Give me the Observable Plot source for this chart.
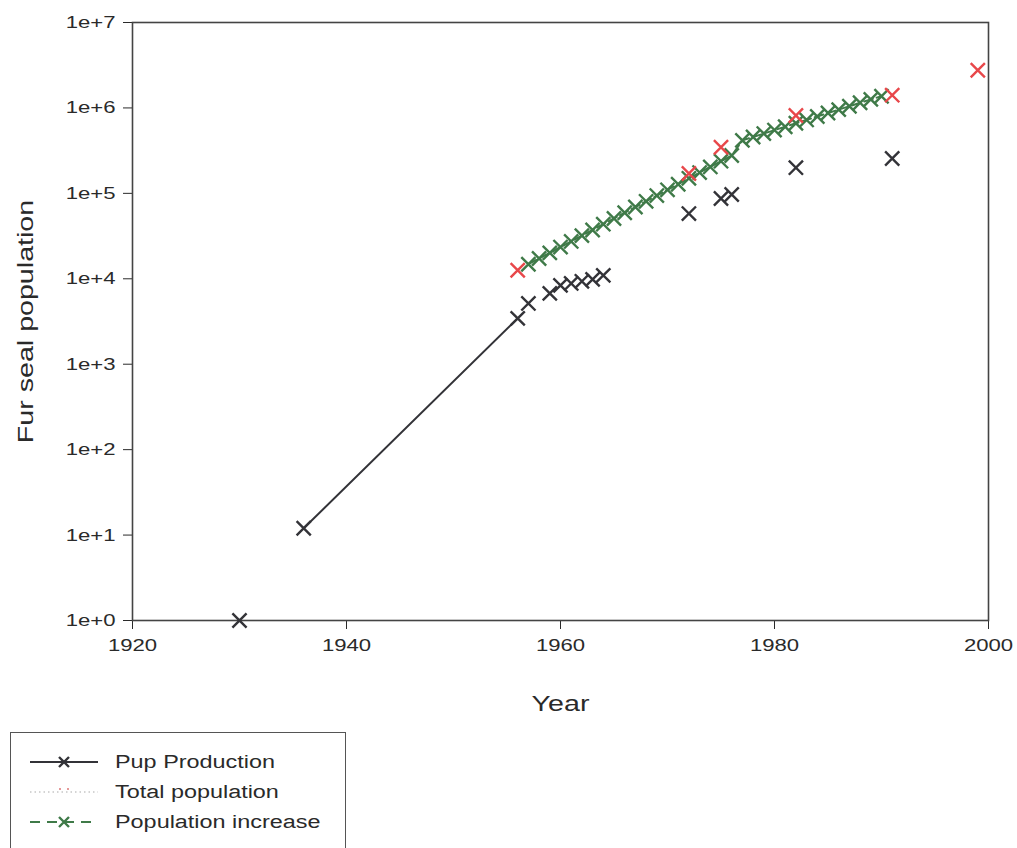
<!DOCTYPE html>
<html>
<head>
<meta charset="utf-8">
<script src="https://cdn.jsdelivr.net/npm/d3@7"></script>
<script src="https://cdn.jsdelivr.net/npm/@observablehq/plot@0.6"></script>
<style>
  body { margin: 0; background: #fff; font-family: "Liberation Sans", Arial, sans-serif; }
  #wrap { position: relative; width: 1017px; height: 848px; overflow: hidden; }
  #legend { position: absolute; left: 10px; top: 732px; width: 336px; height: 130px;
            border: 1.5px solid #555; box-sizing: border-box; background: #fff; }
</style>
</head>
<body>
<div id="wrap">
  <div id="chart"></div>
  <div id="legend"></div>
</div>
<script>
// Pup production (black crosses)
const pupYears = [1930, 1936, 1956, 1957, 1959, 1960, 1961, 1962, 1963, 1964, 1972, 1975, 1976, 1982, 1991];
const pupValues = [1, 12, 3440, 5150, 6750, 8370, 8830, 9330, 9840, 10960, 58000, 87000, 97000, 200000, 256000];
// Years joined by the solid line
const pupLineYears = [1936, 1956];

// Total population (red crosses)
const totalYears = [1956, 1972, 1975, 1982, 1991, 1999];
const totalValues = [12600, 171000, 347000, 815000, 1410000, 2760000];

// Population increase (green, dashed with crosses)
const incYears = [1957, 1958, 1959, 1960, 1961, 1962, 1963, 1964, 1965, 1966, 1967, 1968, 1969, 1970,
  1971, 1972, 1973, 1974, 1975, 1976, 1977, 1978, 1979, 1980, 1981, 1982, 1983, 1984, 1985, 1986,
  1987, 1988, 1989, 1990];
const incValues = [14800, 17300, 20100, 23500, 27400, 32000, 37300, 43600, 50800, 59300, 69200, 80700,
  94200, 110000, 128000, 150000, 175000, 204000, 238000, 277000, 417000, 457000, 501000, 550000,
  603000, 661000, 724000, 794000, 871000, 955000, 1047000, 1148000, 1259000, 1370000];

const xTicks = [1920, 1940, 1960, 1980, 2000];
const yTicks = [1, 10, 100, 1000, 10000, 100000, 1000000, 10000000];
const yTickLabels = ["1e+0", "1e+1", "1e+2", "1e+3", "1e+4", "1e+5", "1e+6", "1e+7"];

const pup = pupYears.map((y, i) => ({year: y, value: pupValues[i]}));
const pupLine = pup.filter(d => pupLineYears.includes(d.year));
const total = totalYears.map((y, i) => ({year: y, value: totalValues[i]}));
const inc = incYears.map((y, i) => ({year: y, value: incValues[i]}));

const BLACK = "#333338", RED = "#e8474a", GREEN = "#3f7a48";
const STRETCH = 1.3; // the reference lettering is wide

const chart = Plot.plot({
  width: 1017,
  height: 725,
  marginLeft: 132,
  marginRight: 29,
  marginTop: 22,
  marginBottom: 105,
  style: {fontFamily: "Liberation Sans, Arial, sans-serif", fontSize: "17px", color: "#2a2a2a", background: "#fff"},
  x: {domain: [1920, 2000], ticks: xTicks, tickFormat: d => String(d), tickSize: 9, tickPadding: 9,
      label: "Year", labelArrow: "none", labelAnchor: "center", labelOffset: 90},
  y: {type: "log", domain: [1, 1e7], ticks: yTicks, tickSize: 9, tickPadding: 8,
      tickFormat: d => yTickLabels[yTicks.indexOf(d)],
      label: "Fur seal population", labelArrow: "none", labelAnchor: "center", labelOffset: 115},
  marks: [
    Plot.frame({stroke: "#444", strokeWidth: 1.6}),
    Plot.line(pupLine, {x: "year", y: "value", stroke: BLACK, strokeWidth: 2}),
    Plot.line(inc, {x: "year", y: "value", stroke: GREEN, strokeWidth: 2, strokeDasharray: "9,4"}),
    Plot.dot(pup, {x: "year", y: "value", symbol: "times", r: 6.5, stroke: BLACK, strokeWidth: 2.4}),
    Plot.dot(inc, {x: "year", y: "value", symbol: "times", r: 6.5, stroke: GREEN, strokeWidth: 2.4}),
    Plot.dot(total, {x: "year", y: "value", symbol: "times", r: 6.5, stroke: RED, strokeWidth: 2.4})
  ]
});
chart.querySelectorAll("text").forEach(t => {
  const s = t.textContent.replace(/\s*[↑↓→←]\s*/g, "").trim();
  if (s !== t.textContent) t.textContent = s;
  t.style.fontSize = (s === "Year" || s === "Fur seal population") ? "22px" : "17px";
  t.style.fill = "#2a2a2a";
});
document.getElementById("chart").appendChild(chart);

// Legend
const entries = [
  {label: "Pup Production", stroke: BLACK, dash: null, mark: BLACK, width: 2},
  {label: "Total population", stroke: "#aaa", dash: "1.5,3", mark: null, width: 1.2},
  {label: "Population increase", stroke: GREEN, dash: "10,7", mark: GREEN, width: 2}
];
const lg = d3.select("#legend").append("svg").attr("width", 336).attr("height", 130)
  .style("font-family", "Liberation Sans, Arial, sans-serif");
entries.forEach((e, i) => {
  const cy = 29 + i * 30;
  lg.append("line").attr("x1", 19).attr("x2", 87).attr("y1", cy).attr("y2", cy)
    .attr("stroke", e.stroke).attr("stroke-width", e.width).attr("stroke-dasharray", e.dash);
  if (e.mark) {
    lg.append("path").attr("d", "M-5,-5L5,5M-5,5L5,-5").attr("transform", `translate(53,${cy})`)
      .attr("stroke", e.mark).attr("stroke-width", 2.4).attr("fill", "none");
  } else {
    lg.append("circle").attr("cx", 49).attr("cy", cy - 3).attr("r", 1).attr("fill", "#d77");
    lg.append("circle").attr("cx", 57).attr("cy", cy - 3).attr("r", 1).attr("fill", "#d77");
  }
  lg.append("text").attr("x", 104).attr("y", cy + 6)
    .attr("font-size", 18).attr("fill", "#2a2a2a").text(e.label);
});

// widen the lettering like the reference (glyphs stretched along the text)
document.querySelectorAll("#wrap svg text").forEach(t => {
  const len = t.getComputedTextLength();
  if (len > 0) {
    t.setAttribute("textLength", (len * STRETCH).toFixed(1));
    t.setAttribute("lengthAdjust", "spacingAndGlyphs");
  }
});
</script>
</body>
</html>
